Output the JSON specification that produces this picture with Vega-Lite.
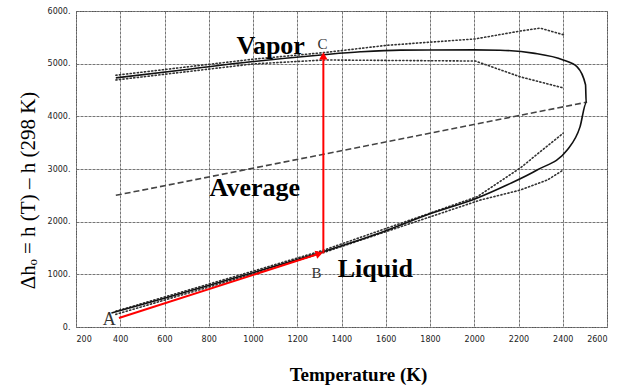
{
  "$schema": "https://vega.github.io/schema/vega-lite/v6.json",
  "width": 531,
  "height": 316,
  "autosize": "none",
  "padding": {"left": 76, "top": 11, "right": 14, "bottom": 62},
  "background": "white",
  "config": {
    "view": {"stroke": "#444", "strokeDash": [2, 1], "strokeWidth": 1},
    "axis": {
      "grid": true, "gridColor": "#666", "gridDash": [3, 1], "gridWidth": 1, "gridOpacity": 0.9,
      "ticks": false, "domain": false,
      "labelFont": "DejaVu Sans", "labelFontSize": 8, "labelColor": "#222",
      "titleFont": "Liberation Serif", "titleColor": "#000"
    }
  },
  "datasets": {
    "curves": [
      {"series": "solid", "ord": 1, "T": 360, "h": 265},
      {"series": "solid", "ord": 2, "T": 600, "h": 545},
      {"series": "solid", "ord": 3, "T": 800, "h": 790},
      {"series": "solid", "ord": 4, "T": 1000, "h": 1030},
      {"series": "solid", "ord": 5, "T": 1200, "h": 1280},
      {"series": "solid", "ord": 6, "T": 1320, "h": 1435},
      {"series": "solid", "ord": 7, "T": 1576, "h": 1790},
      {"series": "solid", "ord": 8, "T": 1800, "h": 2150},
      {"series": "solid", "ord": 9, "T": 2014, "h": 2450},
      {"series": "solid", "ord": 10, "T": 2150, "h": 2700},
      {"series": "solid", "ord": 11, "T": 2284, "h": 2980},
      {"series": "solid", "ord": 12, "T": 2420, "h": 3360},
      {"series": "solid", "ord": 13, "T": 2478, "h": 3800},
      {"series": "solid", "ord": 14, "T": 2506, "h": 4250},
      {"series": "solid", "ord": 15, "T": 2503, "h": 4600},
      {"series": "solid", "ord": 16, "T": 2465, "h": 4940},
      {"series": "solid", "ord": 17, "T": 2402, "h": 5070},
      {"series": "solid", "ord": 18, "T": 2266, "h": 5200},
      {"series": "solid", "ord": 19, "T": 2117, "h": 5255},
      {"series": "solid", "ord": 20, "T": 2000, "h": 5262},
      {"series": "solid", "ord": 21, "T": 1666, "h": 5258},
      {"series": "solid", "ord": 22, "T": 1486, "h": 5225},
      {"series": "solid", "ord": 23, "T": 1320, "h": 5170},
      {"series": "solid", "ord": 24, "T": 1000, "h": 5040},
      {"series": "solid", "ord": 25, "T": 700, "h": 4890},
      {"series": "solid", "ord": 26, "T": 380, "h": 4730},
      {"series": "vapUp", "ord": 1, "T": 380, "h": 4780},
      {"series": "vapUp", "ord": 2, "T": 1000, "h": 5085},
      {"series": "vapUp", "ord": 3, "T": 1320, "h": 5210},
      {"series": "vapUp", "ord": 4, "T": 1608, "h": 5350},
      {"series": "vapUp", "ord": 5, "T": 2005, "h": 5470},
      {"series": "vapUp", "ord": 6, "T": 2208, "h": 5620},
      {"series": "vapUp", "ord": 7, "T": 2298, "h": 5675},
      {"series": "vapUp", "ord": 8, "T": 2411, "h": 5540},
      {"series": "vapLo", "ord": 1, "T": 380, "h": 4690},
      {"series": "vapLo", "ord": 2, "T": 1000, "h": 4995},
      {"series": "vapLo", "ord": 3, "T": 1320, "h": 5070},
      {"series": "vapLo", "ord": 4, "T": 2005, "h": 5050},
      {"series": "vapLo", "ord": 5, "T": 2208, "h": 4750},
      {"series": "vapLo", "ord": 6, "T": 2402, "h": 4540},
      {"series": "liqUp", "ord": 1, "T": 380, "h": 300},
      {"series": "liqUp", "ord": 2, "T": 1000, "h": 1060},
      {"series": "liqUp", "ord": 3, "T": 1320, "h": 1460},
      {"series": "liqUp", "ord": 4, "T": 2014, "h": 2475},
      {"series": "liqUp", "ord": 5, "T": 2208, "h": 3020},
      {"series": "liqUp", "ord": 6, "T": 2402, "h": 3680},
      {"series": "liqLo", "ord": 1, "T": 380, "h": 240},
      {"series": "liqLo", "ord": 2, "T": 1000, "h": 1005},
      {"series": "liqLo", "ord": 3, "T": 1320, "h": 1415},
      {"series": "liqLo", "ord": 4, "T": 2027, "h": 2410},
      {"series": "liqLo", "ord": 5, "T": 2208, "h": 2600},
      {"series": "liqLo", "ord": 6, "T": 2330, "h": 2790},
      {"series": "liqLo", "ord": 7, "T": 2402, "h": 2980},
      {"series": "avg", "ord": 1, "T": 380, "h": 2500},
      {"series": "avg", "ord": 2, "T": 2510, "h": 4270},
      {"series": "redAB", "ord": 1, "T": 394, "h": 170},
      {"series": "redAB", "ord": 2, "T": 1290, "h": 1380},
      {"series": "redBC", "ord": 1, "T": 1318, "h": 1400},
      {"series": "redBC", "ord": 2, "T": 1318, "h": 5120}
    ],
    "arrows": [
      {"T": 1300, "h": 1392, "dir": "right"},
      {"T": 1318, "h": 5150, "dir": "up"}
    ],
    "labels": [
      {"label": "Vapor", "T": 1080, "h": 5340, "kind": "big"},
      {"label": "Average", "T": 1008, "h": 2640, "kind": "big"},
      {"label": "Liquid", "T": 1553, "h": 1110, "kind": "big"},
      {"label": "C", "T": 1314, "h": 5370, "kind": "small"},
      {"label": "B", "T": 1287, "h": 1030, "kind": "small"},
      {"label": "A", "T": 350, "h": 140, "kind": "a"}
    ]
  },
  "encoding": {
    "x": {"field": "T", "type": "quantitative", "scale": {"domain": [200, 2600], "nice": false},
      "axis": {"values": [200,400,600,800,1000,1200,1400,1600,1800,2000,2200,2400,2600], "format": "d",
        "labelPadding": 8, "title": "Temperature (K)", "titleFontSize": 19, "titleFontWeight": "bold", "titlePadding": 22,
        "titleX": 282, "titleAlign": "center"}},
    "y": {"field": "h", "type": "quantitative", "scale": {"domain": [0, 6000], "nice": false},
      "axis": {"values": [0,1000,2000,3000,4000,5000,6000], "labelExpr": "datum.value + '.'",
        "labelPadding": 6, "title": "Δhₒ = h (T) – h (298 K)", "titleFontSize": 21, "titleFontWeight": "normal",
        "titleX": -48, "titleY": 179, "titleAngle": -90, "titleAlign": "center", "titleBaseline": "middle"}}
  },
  "layer": [
    {
      "data": {"name": "curves"},
      "transform": [{"filter": "datum.series === 'avg'"}],
      "mark": {"type": "line", "color": "#444", "strokeWidth": 1.6, "strokeDash": [6, 3]},
      "encoding": {"order": {"field": "ord", "type": "quantitative"}}
    },
    {
      "data": {"name": "curves"},
      "transform": [{"filter": "indexof(['vapUp','vapLo','liqUp','liqLo'], datum.series) >= 0"}],
      "mark": {"type": "line", "color": "#333", "strokeWidth": 1.6, "strokeDash": [1.2, 2.4], "strokeCap": "round"},
      "encoding": {"detail": {"field": "series"}, "order": {"field": "ord", "type": "quantitative"}}
    },
    {
      "data": {"name": "curves"},
      "transform": [{"filter": "datum.series === 'solid'"}],
      "mark": {"type": "line", "color": "#111", "strokeWidth": 1.6, "interpolate": "monotone"},
      "encoding": {"order": {"field": "ord", "type": "quantitative"}}
    },
    {
      "data": {"name": "curves"},
      "transform": [{"filter": "datum.series === 'redAB' || datum.series === 'redBC'"}],
      "mark": {"type": "line", "color": "#ff0000", "strokeWidth": 2},
      "encoding": {"detail": {"field": "series"}, "order": {"field": "ord", "type": "quantitative"}}
    },
    {
      "data": {"name": "arrows"},
      "transform": [{"filter": "datum.dir === 'up'"}],
      "mark": {"type": "point", "shape": "triangle-up", "filled": true, "color": "#ff0000", "size": 70, "opacity": 1}
    },
    {
      "data": {"name": "arrows"},
      "transform": [{"filter": "datum.dir === 'right'"}],
      "mark": {"type": "point", "shape": "triangle-right", "angle": 342, "filled": true, "color": "#ff0000", "size": 70, "opacity": 1}
    },
    {
      "data": {"name": "labels"},
      "transform": [{"filter": "datum.kind === 'big'"}],
      "mark": {"type": "text", "font": "Liberation Serif", "fontSize": 26, "fontWeight": "bold", "color": "#000", "align": "center", "baseline": "middle"},
      "encoding": {"text": {"field": "label"}}
    },
    {
      "data": {"name": "labels"},
      "transform": [{"filter": "datum.kind === 'small'"}],
      "mark": {"type": "text", "font": "Liberation Serif", "fontSize": 15, "color": "#333", "align": "center", "baseline": "middle"},
      "encoding": {"text": {"field": "label"}}
    },
    {
      "data": {"name": "labels"},
      "transform": [{"filter": "datum.kind === 'a'"}],
      "mark": {"type": "text", "font": "Liberation Serif", "fontSize": 18, "color": "#333", "align": "center", "baseline": "middle"},
      "encoding": {"text": {"field": "label"}}
    }
  ]
}
